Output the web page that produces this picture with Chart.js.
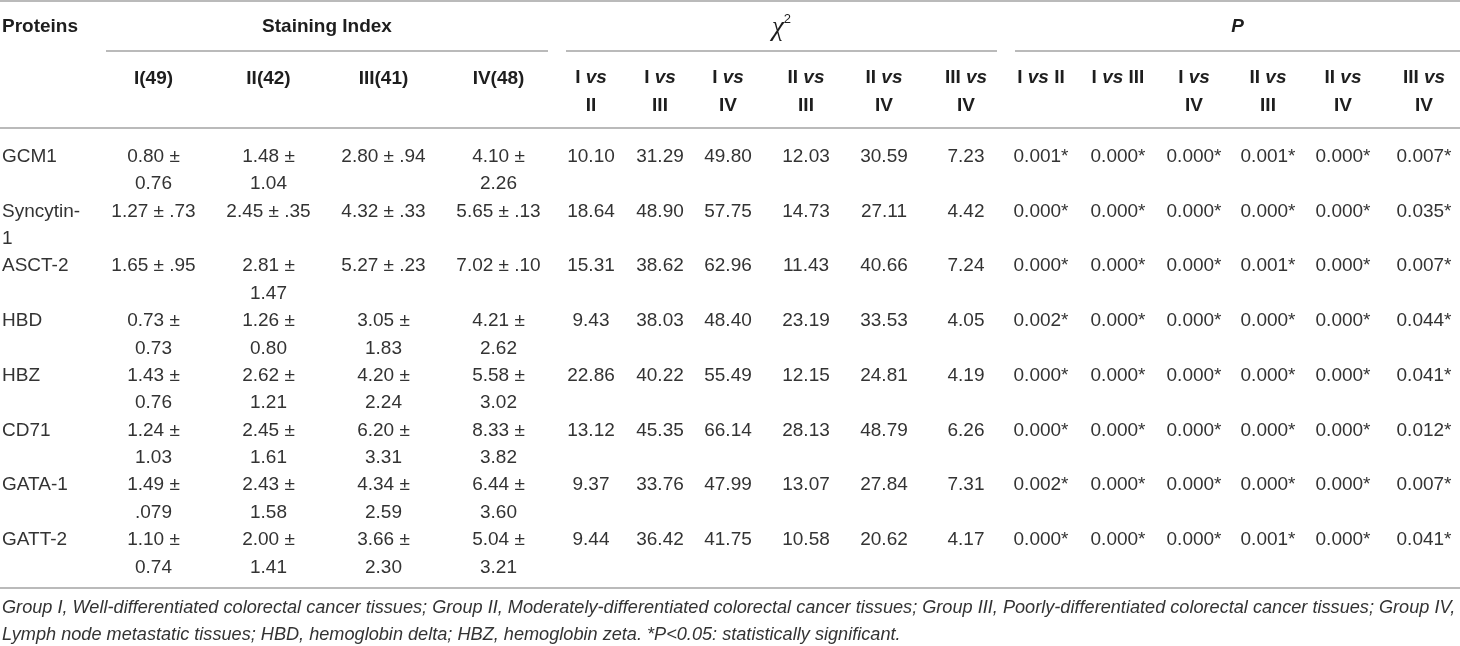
<!DOCTYPE html>
<html>
<head>
<meta charset="utf-8">
<script src="https://cdn.jsdelivr.net/npm/chart.js@4.4.0/dist/chart.umd.min.js"></script>
<style>
  html, body { margin: 0; padding: 0; background: #fff; }
  #wrap { position: relative; width: 1460px; height: 646px; }
</style>
</head>
<body>
<div id="wrap"><canvas id="table"></canvas></div>
<script>
// rows and column headings
const proteins = ['GCM1', 'Syncytin-1', 'ASCT-2', 'HBD', 'HBZ', 'CD71', 'GATA-1', 'GATT-2'];
const groupLabels = ['I(49)', 'II(42)', 'III(41)', 'IV(48)'];
const comparisons = ['I vs II', 'I vs III', 'I vs IV', 'II vs III', 'II vs IV', 'III vs IV'];

// staining index, mean ± sd as printed
const siGroupI = ['0.80 ± 0.76', '1.27 ± .73', '1.65 ± .95', '0.73 ± 0.73', '1.43 ± 0.76', '1.24 ± 1.03', '1.49 ± .079', '1.10 ± 0.74'];
const siGroupII = ['1.48 ± 1.04', '2.45 ± .35', '2.81 ± 1.47', '1.26 ± 0.80', '2.62 ± 1.21', '2.45 ± 1.61', '2.43 ± 1.58', '2.00 ± 1.41'];
const siGroupIII = ['2.80 ± .94', '4.32 ± .33', '5.27 ± .23', '3.05 ± 1.83', '4.20 ± 2.24', '6.20 ± 3.31', '4.34 ± 2.59', '3.66 ± 2.30'];
const siGroupIV = ['4.10 ± 2.26', '5.65 ± .13', '7.02 ± .10', '4.21 ± 2.62', '5.58 ± 3.02', '8.33 ± 3.82', '6.44 ± 3.60', '5.04 ± 3.21'];

// chi-square
const chiIvsII = [10.10, 18.64, 15.31, 9.43, 22.86, 13.12, 9.37, 9.44];
const chiIvsIII = [31.29, 48.90, 38.62, 38.03, 40.22, 45.35, 33.76, 36.42];
const chiIvsIV = [49.80, 57.75, 62.96, 48.40, 55.49, 66.14, 47.99, 41.75];
const chiIIvsIII = [12.03, 14.73, 11.43, 23.19, 12.15, 28.13, 13.07, 10.58];
const chiIIvsIV = [30.59, 27.11, 40.66, 33.53, 24.81, 48.79, 27.84, 20.62];
const chiIIIvsIV = [7.23, 4.42, 7.24, 4.05, 4.19, 6.26, 7.31, 4.17];

// P values
const pIvsII = [0.001, 0.000, 0.000, 0.002, 0.000, 0.000, 0.002, 0.000];
const pIvsIII = [0.000, 0.000, 0.000, 0.000, 0.000, 0.000, 0.000, 0.000];
const pIvsIV = [0.000, 0.000, 0.000, 0.000, 0.000, 0.000, 0.000, 0.000];
const pIIvsIII = [0.001, 0.000, 0.001, 0.000, 0.000, 0.000, 0.000, 0.001];
const pIIvsIV = [0.000, 0.000, 0.000, 0.000, 0.000, 0.000, 0.000, 0.000];
const pIIIvsIV = [0.007, 0.035, 0.007, 0.044, 0.041, 0.012, 0.007, 0.041];

const footnote = [
  'Group I, Well-differentiated colorectal cancer tissues; Group II, Moderately-differentiated colorectal cancer tissues; Group III, Poorly-differentiated colorectal cancer tissues; Group IV,',
  'Lymph node metastatic tissues; HBD, hemoglobin delta; HBZ, hemoglobin zeta. *P<0.05: statistically significant.'
];

// ---- layout ----
const SANS = '"Liberation Sans", Arial, Helvetica, sans-serif';
const bodyFont = '19px ' + SANS;
const headFont = 'bold 19px ' + SANS;
const headItalic = 'italic bold 19px ' + SANS;
const textColor = '#333';
const headColor = '#1e1e1e';
const ruleColor = '#a3a3a3';

const siX = [153.5, 268.5, 383.5, 498.5];
const chiX = [591, 660, 728, 806, 884, 966];
const pX = [1041, 1118, 1194, 1268, 1343, 1424];
const pHeadWraps = [false, false, true, true, true, true];

const sections = [
  { title: 'Staining Index', from: 106, to: 548 },
  { title: 'chi', from: 566, to: 997 },
  { title: 'P', from: 1015, to: 1460 }
];

const fmtChi = v => v.toFixed(2);
const fmtP = v => v.toFixed(3) + (v < 0.05 ? '*' : '');

const columns = [
  { cells: proteins, x: 2, align: 'left', maxW: 80 },
  ...[siGroupI, siGroupII, siGroupIII, siGroupIV].map((c, i) => ({ cells: c, x: siX[i], align: 'center', maxW: 92 })),
  ...[chiIvsII, chiIvsIII, chiIvsIV, chiIIvsIII, chiIIvsIV, chiIIIvsIV].map((c, i) => ({ cells: c.map(fmtChi), x: chiX[i], align: 'center', maxW: 999 })),
  ...[pIvsII, pIvsIII, pIvsIV, pIIvsIII, pIIvsIV, pIIIvsIV].map((c, i) => ({ cells: c.map(fmtP), x: pX[i], align: 'center', maxW: 999 }))
];

// break after a space or hyphen when the text is too wide
function wrapText(ctx, text, maxW) {
  if (ctx.measureText(text).width <= maxW) return [text];
  let best = -1;
  for (let i = 1; i < text.length; i++) {
    const ch = text[i - 1];
    if (ch === ' ' || ch === '-') {
      if (ctx.measureText(text.slice(0, i).trim()).width <= maxW) best = i;
    }
  }
  if (best < 0) return [text];
  return [text.slice(0, best).trim(), text.slice(best).trim()];
}

// draws runs of differently styled text centred (or left aligned) on x
function drawRuns(ctx, runs, x, y, align) {
  let total = 0;
  runs.forEach(r => { ctx.font = r.font; total += ctx.measureText(r.text).width; });
  let cx = align === 'left' ? x : x - total / 2;
  ctx.textAlign = 'left';
  runs.forEach(r => {
    ctx.font = r.font;
    ctx.fillText(r.text, cx, y + (r.dy || 0));
    cx += ctx.measureText(r.text).width;
  });
}

function comparisonRuns(label, wrap) {
  const [a, b] = label.split(' vs ');
  if (wrap) {
    return [[{ text: a + ' ', font: headFont }, { text: 'vs', font: headItalic }],
            [{ text: b, font: headFont }]];
  }
  return [[{ text: a + ' ', font: headFont }, { text: 'vs', font: headItalic }, { text: ' ' + b, font: headFont }]];
}

const tableText = {
  id: 'tableText',
  afterDatasetsDraw(chart) {
    const ctx = chart.ctx;
    const xs = chart.scales.x;
    const ys = chart.scales.y;
    const pitch = ys.getPixelForValue(1) - ys.getPixelForValue(0);
    const W = chart.width;
    ctx.save();
    ctx.textBaseline = 'middle';

    // body cells
    ctx.fillStyle = textColor;
    chart.data.datasets.forEach((ds, i) => {
      const col = columns[i];
      chart.getDatasetMeta(i).data.forEach((pt, r) => {
        ctx.font = bodyFont;
        ctx.textAlign = col.align;
        const lines = wrapText(ctx, String(col.cells[r]), col.maxW);
        lines.forEach((ln, k) => ctx.fillText(ln, pt.x, pt.y - pitch / 4 + k * pitch / 2));
      });
    });

    // rules
    ctx.strokeStyle = ruleColor;
    ctx.lineWidth = 1.6;
    const rule = (x0, x1, y) => { ctx.beginPath(); ctx.moveTo(x0, y); ctx.lineTo(x1, y); ctx.stroke(); };
    const headBottom = chart.chartArea.top - 15;
    const tableBottom = chart.chartArea.bottom + 7;
    rule(0, W, 1);
    rule(0, W, headBottom);
    rule(0, W, tableBottom);
    sections.forEach(s => rule(xs.getPixelForValue(s.from), xs.getPixelForValue(s.to), 51));

    // headings
    ctx.fillStyle = headColor;
    ctx.font = headFont;
    ctx.textAlign = 'left';
    ctx.fillText('Proteins', xs.getPixelForValue(2), 27);
    sections.forEach(s => {
      const cx = (xs.getPixelForValue(s.from) + xs.getPixelForValue(s.to)) / 2;
      if (s.title === 'chi') {
        drawRuns(ctx, [
          { text: '\u03c7', font: 'italic 27px "Liberation Serif", "Times New Roman", serif' },
          { text: '2', font: '13px ' + SANS, dy: -9 }
        ], cx, 28, 'center');
      } else if (s.title === 'P') {
        drawRuns(ctx, [{ text: 'P', font: headItalic }], cx, 27, 'center');
      } else {
        drawRuns(ctx, [{ text: s.title, font: headFont }], cx, 27, 'center');
      }
    });

    const subY = 78, subGap = 28;
    groupLabels.forEach((g, i) => drawRuns(ctx, [{ text: g, font: headFont }], xs.getPixelForValue(siX[i]), subY + 1, 'center'));
    comparisons.forEach((c, i) => {
      comparisonRuns(c, true).forEach((line, k) => drawRuns(ctx, line, xs.getPixelForValue(chiX[i]), subY + k * subGap, 'center'));
      comparisonRuns(c, pHeadWraps[i]).forEach((line, k) => drawRuns(ctx, line, xs.getPixelForValue(pX[i]), subY + k * subGap, 'center'));
    });

    // footnote, sized to run across the full width
    ctx.fillStyle = textColor;
    ctx.textAlign = 'left';
    ctx.font = 'italic 19px ' + SANS;
    const fit = 19 * (W - 6) / ctx.measureText(footnote[0]).width;
    ctx.font = 'italic ' + fit.toFixed(2) + 'px ' + SANS;
    footnote.forEach((ln, k) => ctx.fillText(ln, 2, tableBottom + 20 + k * 27));
    ctx.restore();
  }
};

const datasets = columns.map(col => ({
  data: proteins.map(p => ({ x: col.x, y: p })),
  pointRadius: 0,
  pointHoverRadius: 0,
  showLine: false
}));

new Chart(document.getElementById('table'), {
  type: 'scatter',
  data: { datasets: datasets },
  options: {
    responsive: true,
    maintainAspectRatio: false,
    animation: false,
    events: [],
    layout: { padding: { top: 143, bottom: 65, left: 0, right: 0 } },
    scales: {
      x: { type: 'linear', min: 0, max: 1460, display: false },
      y: { type: 'category', labels: proteins, offset: true, display: false }
    },
    plugins: {
      legend: { display: false },
      tooltip: { enabled: false }
    }
  },
  plugins: [tableText]
});
</script>
</body>
</html>
